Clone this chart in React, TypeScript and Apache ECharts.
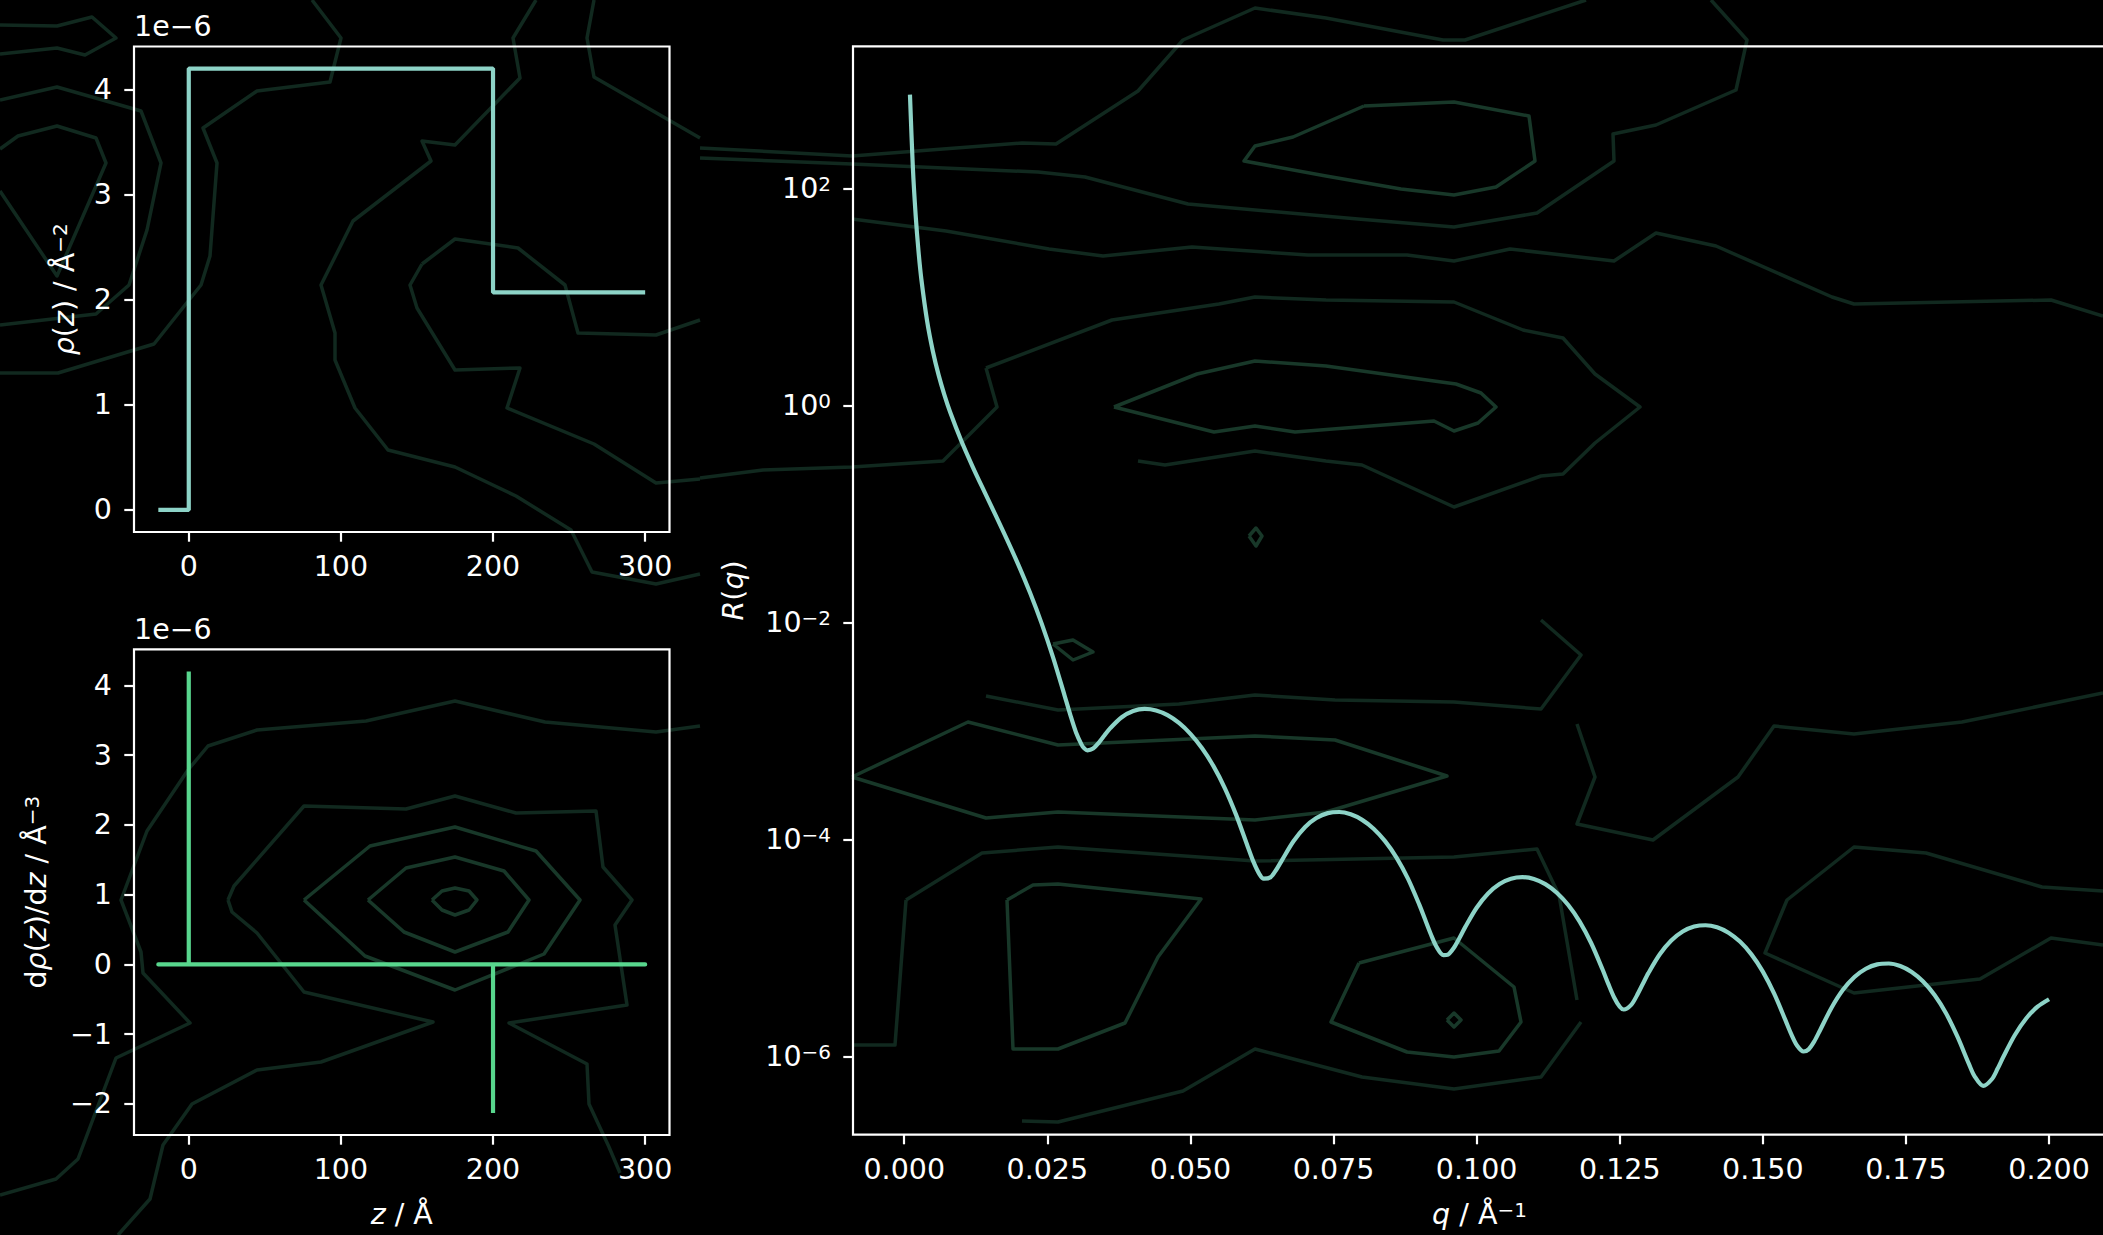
import React, { useEffect, useRef } from "react";
import * as echarts from "echarts";

const FONT = "DejaVu Sans";
const WHITE = "#ffffff";
const TEAL = "#8dd3c7";
const GREEN = "#58d68d";
const FS = 28.5;

// ---- Panel A: SLD profile rho(z) ----
const sldZ = [-20, 0, 0, 200, 200, 300];
const sldRho = [0, 0, 4.2e-6, 4.2e-6, 2.07e-6, 2.07e-6];

// ---- Panel B: derivative d rho / dz ----
const dZ = [-20, 0, 0, 0, 200, 200, 200, 300];
const dRho = [0, 0, 4.2e-6, 0, 0, -2.13e-6, 0, 0];

// ---- Panel C: reflectivity R(q) ----
const qValues = [
  0.001, 0.0015, 0.002, 0.0025, 0.003, 0.004, 0.005, 0.006, 0.007, 0.008,
  0.01, 0.012, 0.014, 0.016, 0.018, 0.02, 0.022, 0.024, 0.026, 0.028,
  0.029, 0.03, 0.031, 0.0314, 0.032, 0.033, 0.034, 0.035, 0.036, 0.038,
  0.04, 0.042, 0.044, 0.046, 0.048, 0.05, 0.052, 0.054, 0.056, 0.058,
  0.06, 0.061, 0.062, 0.0628, 0.064, 0.065, 0.066, 0.068, 0.07, 0.072,
  0.074, 0.076, 0.078, 0.08, 0.082, 0.084, 0.086, 0.088, 0.09, 0.091,
  0.092, 0.093, 0.0942, 0.095, 0.096, 0.097, 0.098, 0.1, 0.102, 0.104,
  0.106, 0.108, 0.11, 0.112, 0.114, 0.116, 0.118, 0.12, 0.122, 0.123,
  0.124, 0.125, 0.1257, 0.127, 0.128, 0.129, 0.13, 0.132, 0.134, 0.136,
  0.138, 0.14, 0.142, 0.144, 0.146, 0.148, 0.15, 0.152, 0.154, 0.155,
  0.156, 0.1571, 0.158, 0.159, 0.16, 0.162, 0.164, 0.166, 0.168, 0.17,
  0.172, 0.174, 0.176, 0.178, 0.18, 0.182, 0.184, 0.186, 0.187, 0.1885,
  0.19, 0.191, 0.192, 0.194, 0.196, 0.198, 0.2,
];
const rValues = [
  733, 158.6, 56.23, 26.17, 14.44, 5.99, 3.161, 1.912, 1.259, 0.875,
  0.4677, 0.2693, 0.1605, 0.0965, 0.0575, 0.03343, 0.01866, 0.00981, 0.004767, 0.002132,
  0.001414, 9.743e-4, 7.435e-4, 6.961e-4, 6.636e-4, 6.893e-4, 7.824e-4, 9.141e-4, 1.062e-3, 1.339e-3,
  1.529e-3, 1.597e-3, 1.546e-3, 1.397e-3, 1.184e-3, 9.395e-4, 6.958e-4, 4.764e-4, 2.977e-4, 1.676e-4,
  8.627e-5, 6.242e-5, 4.843e-5, 4.35e-5, 4.49e-5, 5.257e-5, 6.457e-5, 9.618e-5, 1.297e-4, 1.576e-4,
  1.748e-4, 1.79e-4, 1.705e-4, 1.515e-4, 1.256e-4, 9.649e-5, 6.808e-5, 4.351e-5, 2.494e-5, 1.826e-5,
  1.336e-5, 1.022e-5, 8.597e-6, 8.7e-6, 9.988e-6, 1.236e-5, 1.556e-5, 2.349e-5, 3.182e-5, 3.889e-5,
  4.346e-5, 4.493e-5, 4.32e-5, 3.873e-5, 3.228e-5, 2.486e-5, 1.751e-5, 1.111e-5, 6.329e-6, 4.667e-6,
  3.517e-6, 2.873e-6, 2.71e-6, 2.987e-6, 3.65e-6, 4.631e-6, 5.861e-6, 8.753e-6, 1.171e-5, 1.417e-5,
  1.574e-5, 1.62e-5, 1.551e-5, 1.383e-5, 1.145e-5, 8.73e-6, 6.056e-6, 3.772e-6, 2.126e-6, 1.589e-6,
  1.253e-6, 1.111e-6, 1.163e-6, 1.381e-6, 1.747e-6, 2.813e-6, 4.115e-6, 5.4e-6, 6.437e-6, 7.063e-6,
  7.189e-6, 6.812e-6, 6.008e-6, 4.907e-6, 3.681e-6, 2.5e-6, 1.521e-6, 8.535e-7, 6.558e-7, 5.36e-7,
  6.166e-7, 7.692e-7, 9.881e-7, 1.569e-6, 2.239e-6, 2.874e-6, 3.367e-6,
];

// ---- axis ranges and tick settings ----
const zRange = [-36, 316];
const zTicks = [0, 300, 100]; // min, max, step
const rhoRange = [-0.21e-6, 4.41e-6];
const rhoTicks = [0, 4e-6, 1e-6];
const dRhoRange = [-2.4465e-6, 4.5165e-6];
const dRhoTicks = [-2e-6, 4e-6, 1e-6];
const qRange = [-0.00895, 0.20995];
const qTicks = [0, 0.2, 0.025];
const rExpRange = [-6.72, 3.31]; // log10 limits of R axis
const rExpTicks = [-6, 2, 2];

// ---- layout (pixel boxes of the three axes) ----
const boxA = { left: 134, top: 46.5, width: 535.5, height: 485.5 };
const boxB = { left: 134, top: 649.4, width: 535.5, height: 485.6 };
const boxC = { left: 853, top: 46.3, width: 1253, height: 1088.3 };

// ---- decorative background contour lines (figure backdrop, pixel space) ----
const CONTOUR_BRIGHT = "#183829";
const CONTOUR_DIM = "#11291f";
const contoursBright: number[][][] = [
  [[1364, 106], [1454, 102], [1529, 116], [1535, 161], [1496, 187], [1454, 195], [1401, 189], [1326, 176], [1244, 161], [1255, 146], [1293, 137], [1364, 106]],
  [[1114, 407], [1197, 374], [1255, 361], [1326, 366], [1434, 381], [1456, 384], [1481, 393], [1496, 407], [1478, 423], [1454, 431], [1434, 421], [1295, 432], [1255, 426], [1214, 432], [1114, 407]],
  [[1007, 900], [1033, 885], [1058, 884], [1201, 899], [1158, 957], [1125, 1023], [1058, 1049], [1013, 1049], [1007, 900]],
  [[1359, 963], [1454, 938], [1514, 987], [1521, 1022], [1499, 1051], [1454, 1057], [1407, 1052], [1331, 1022], [1359, 963]],
  [[432, 900], [442, 891], [455, 888], [469, 891], [477, 900], [469, 910], [455, 915], [442, 910], [432, 900]],
  [[368, 900], [406, 868], [455, 857], [504, 871], [529, 900], [508, 932], [455, 952], [404, 932], [368, 900]],
  [[304, 900], [370, 846], [455, 827], [536, 851], [580, 900], [544, 954], [455, 990], [365, 956], [304, 900]],
  [[852, 777], [986, 818], [1058, 812], [1255, 820], [1326, 812], [1447, 776], [1335, 740], [1255, 736], [1058, 745], [968, 722], [852, 777]],
  [[1053, 644], [1073, 640], [1093, 652], [1073, 660], [1053, 644]],
  [[1249, 536], [1256, 528], [1262, 536], [1256, 546], [1249, 536]],
  [[1447, 1020], [1454, 1013], [1461, 1020], [1454, 1027], [1447, 1020]],
];
const contoursDim: number[][][] = [
  [[700, 148], [852, 156], [1022, 143], [1056, 144], [1138, 91], [1183, 40], [1255, 8], [1326, 18], [1443, 40], [1465, 40], [1586, 0]],
  [[1711, 0], [1747, 40], [1736, 90], [1656, 125], [1613, 134], [1614, 161], [1537, 213], [1454, 227], [1358, 219], [1188, 204], [1085, 177], [1038, 172], [852, 164], [700, 158]],
  [[852, 219], [946, 231], [1049, 249], [1103, 256], [1192, 247], [1308, 255], [1407, 255], [1454, 261], [1510, 249], [1614, 261], [1656, 233], [1716, 246], [1832, 297], [1854, 304], [2051, 300], [2103, 316]],
  [[986, 368], [1112, 320], [1219, 304], [1255, 297], [1326, 300], [1454, 302], [1523, 330], [1563, 338], [1595, 374], [1640, 407], [1595, 443], [1563, 474], [1541, 476], [1454, 507], [1362, 465], [1326, 461], [1255, 451], [1165, 465], [1138, 461]],
  [[986, 368], [997, 407], [943, 461], [852, 467], [763, 470], [700, 478]],
  [[986, 696], [1058, 710], [1179, 704], [1255, 695], [1335, 700], [1454, 702], [1541, 709], [1581, 655], [1541, 620]],
  [[906, 900], [982, 853], [1058, 847], [1255, 861], [1454, 857], [1537, 849], [1559, 895], [1577, 1000]],
  [[906, 900], [895, 1045], [852, 1045]],
  [[1022, 1121], [1058, 1122], [1183, 1091], [1255, 1049], [1362, 1077], [1454, 1089], [1541, 1077], [1581, 1022]],
  [[1577, 724], [1595, 777], [1577, 824], [1653, 840], [1738, 777], [1774, 726], [1854, 734], [1962, 722], [2103, 693]],
  [[2103, 891], [2042, 887], [1926, 853], [1854, 847], [1787, 900], [1765, 953], [1854, 993], [1980, 979], [2051, 938], [2103, 945]],
  [[312, 0], [341, 38], [330, 82], [257, 91], [203, 128], [217, 163], [210, 256], [201, 285], [154, 344], [58, 373], [0, 373]],
  [[536, 0], [513, 38], [520, 78], [455, 145], [422, 141], [431, 161], [353, 221], [321, 285], [335, 333], [335, 360], [355, 408], [388, 450], [455, 467], [516, 496], [571, 530], [592, 572], [656, 584], [700, 574]],
  [[422, 264], [455, 239], [518, 248], [565, 285], [578, 333], [656, 335], [700, 320]],
  [[422, 264], [410, 285], [417, 308], [455, 370], [520, 368], [507, 408], [594, 444], [656, 483], [700, 479]],
  [[594, 0], [587, 38], [594, 77], [700, 138]],
  [[0, 100], [57, 87], [141, 111], [161, 163], [147, 230], [129, 285], [96, 314], [0, 325]],
  [[0, 149], [18, 136], [57, 126], [96, 138], [106, 163], [57, 276], [0, 191]],
  [[0, 25], [57, 26], [92, 17], [116, 38], [85, 55], [57, 48], [0, 54]],
  [[228, 900], [234, 886], [304, 806], [406, 809], [455, 796], [516, 813], [596, 811], [603, 867], [632, 900], [615, 925], [627, 1005], [509, 1023], [587, 1064], [589, 1104], [609, 1147], [620, 1173]],
  [[228, 900], [232, 912], [257, 933], [304, 992], [433, 1022], [321, 1062], [257, 1070], [192, 1104], [163, 1145], [150, 1199], [118, 1235]],
  [[700, 726], [656, 732], [545, 722], [455, 701], [366, 721], [257, 730], [208, 746], [188, 770], [147, 831], [121, 900], [141, 952], [143, 973], [190, 1023], [116, 1058], [78, 1159], [56, 1179], [0, 1195]],
];

function xTickGrid(box: any, range: number[], t: number[]) {
  const s = box.width / (range[1] - range[0]);
  return {
    left: box.left + (t[0] - range[0]) * s,
    width: (t[1] - t[0]) * s,
    top: box.top,
    height: box.height,
  };
}
function yTickGrid(box: any, range: number[], t: number[]) {
  const s = box.height / (range[1] - range[0]);
  return {
    left: box.left,
    width: box.width,
    top: box.top + (range[1] - t[1]) * s,
    height: (t[1] - t[0]) * s,
  };
}

const signed = (n: number) => (n < 0 ? "\u2212" + -n : String(n));

const supStyle = { fontSize: 20, lineHeight: 13, verticalAlign: "top", color: WHITE, fontFamily: FONT };
const itStyle = { fontStyle: "italic", color: WHITE, fontSize: FS, fontFamily: FONT };

const tickLine = { show: true, length: 9.7, inside: false, lineStyle: { color: WHITE, width: 2.2 } };
const labelBase = { color: WHITE, fontSize: FS, fontFamily: FONT, rich: { s: supStyle } };
const nameStyle = {
  color: WHITE,
  fontSize: FS,
  fontFamily: FONT,
  rich: { i: itStyle, s: supStyle },
};

function gridOf(b: any, show = false) {
  return {
    left: b.left,
    top: b.top,
    width: b.width,
    height: b.height,
    show,
    borderColor: WHITE,
    borderWidth: 2.2,
    backgroundColor: "transparent",
    containLabel: false,
    outerBoundsMode: "none",
    z: 3,
  };
}

const hiddenAxis = (gi: number) => ({ gridIndex: gi, type: "value", show: false, min: 0, max: 1 });

function dataAxis(gi: number, type: string, min: number, max: number, extra: any = {}) {
  return {
    gridIndex: gi,
    type,
    min,
    max,
    axisLine: { show: false },
    axisTick: { show: false },
    axisLabel: { show: false },
    splitLine: { show: false },
    nameLocation: "middle",
    nameTextStyle: nameStyle,
    ...extra,
  };
}

function tickAxis(gi: number, t: number[], position: string, margin: number, formatter: any) {
  return {
    gridIndex: gi,
    type: "value",
    position,
    min: t[0],
    max: t[1],
    interval: t[2],
    axisLine: { show: false },
    axisTick: tickLine,
    axisLabel: { ...labelBase, margin, formatter },
    splitLine: { show: false },
  };
}

const fmtMicro = (v: number) => signed(Math.round(v * 1e6));
const fmtInt = (v: number) => signed(Math.round(v));
const fmtQ = (v: number) => v.toFixed(3);
const fmtPow = (v: number) => "10{s|" + signed(Math.round(v)) + "}";

const contourGraphics = [
  ...contoursDim.map((pts) => ({
    type: "polyline",
    silent: true,
    z: -10,
    shape: { points: pts },
    style: { stroke: CONTOUR_DIM, lineWidth: 3.5, fill: null, lineJoin: "round" },
  })),
  ...contoursBright.map((pts) => ({
    type: "polyline",
    silent: true,
    z: -9,
    shape: { points: pts },
    style: { stroke: CONTOUR_BRIGHT, lineWidth: 3.5, fill: null, lineJoin: "round" },
  })),
];

const offsetText = (y: number) => ({
  type: "text",
  x: 134,
  y,
  z: 10,
  style: {
    text: "1e\u22126",
    fill: WHITE,
    fontSize: FS,
    fontFamily: FONT,
    textAlign: "left",
    textVerticalAlign: "middle",
    align: "left",
    verticalAlign: "middle",
  },
});

const option: any = {
  animation: false,
  backgroundColor: "#000000",
  grid: [
    gridOf(boxA, true),
    gridOf(boxB, true),
    gridOf(boxC, true),
    gridOf(xTickGrid(boxA, zRange, zTicks)),
    gridOf(yTickGrid(boxA, rhoRange, rhoTicks)),
    gridOf(xTickGrid(boxB, zRange, zTicks)),
    gridOf(yTickGrid(boxB, dRhoRange, dRhoTicks)),
    gridOf(xTickGrid(boxC, qRange, qTicks)),
    gridOf(yTickGrid(boxC, rExpRange, rExpTicks)),
  ],
  xAxis: [
    dataAxis(0, "value", zRange[0], zRange[1]),
    dataAxis(1, "value", zRange[0], zRange[1], { name: "{i|z} / \u00c5", nameGap: 65 }),
    dataAxis(2, "value", qRange[0], qRange[1], { name: "{i|q} / \u00c5{s|\u22121}", nameGap: 65 }),
    tickAxis(3, zTicks, "bottom", 20, fmtInt),
    hiddenAxis(4),
    tickAxis(5, zTicks, "bottom", 20, fmtInt),
    hiddenAxis(6),
    tickAxis(7, qTicks, "bottom", 20, fmtQ),
    hiddenAxis(8),
  ],
  yAxis: [
    dataAxis(0, "value", rhoRange[0], rhoRange[1], {
      name: "{i|\u03c1}({i|z}) / \u00c5{s|\u22122}",
      nameGap: 55,
    }),
    dataAxis(1, "value", dRhoRange[0], dRhoRange[1], {
      name: "d{i|\u03c1}({i|z})/d{i|z} / \u00c5{s|\u22123}",
      nameGap: 83,
    }),
    dataAxis(2, "log", 1.905e-7, 2041.7, { logBase: 10, name: "{i|R}({i|q})", nameGap: 105 }),
    hiddenAxis(3),
    tickAxis(4, rhoTicks, "left", 22, fmtMicro),
    hiddenAxis(5),
    tickAxis(6, dRhoTicks, "left", 22, fmtMicro),
    hiddenAxis(7),
    tickAxis(8, rExpTicks, "left", 22, fmtPow),
  ],
  series: [
    {
      type: "line",
      xAxisIndex: 0,
      yAxisIndex: 0,
      data: sldZ.map((z, i) => [z, sldRho[i]]),
      showSymbol: false,
      lineStyle: { color: TEAL, width: 4.2 },
      z: 5,
    },
    {
      type: "line",
      xAxisIndex: 1,
      yAxisIndex: 1,
      data: dZ.map((z, i) => [z, dRho[i]]),
      showSymbol: false,
      lineStyle: { color: GREEN, width: 4.2, cap: "round" },
      z: 5,
    },
    {
      type: "line",
      xAxisIndex: 2,
      yAxisIndex: 2,
      data: qValues.map((q, i) => [q, rValues[i]]),
      showSymbol: false,
      smooth: 0.3,
      lineStyle: { color: TEAL, width: 4.2 },
      z: 5,
    },
  ],
  graphic: [...contourGraphics, offsetText(26), offsetText(629)],
};

export default function App() {
  const ref = useRef<HTMLDivElement>(null);
  useEffect(() => {
    document.body.style.margin = "0";
    document.body.style.background = "#000";
    const chart = echarts.init(ref.current as HTMLDivElement, null, {
      renderer: "svg",
      width: 2103,
      height: 1235,
    });
    chart.setOption(option);
    return () => chart.dispose();
  }, []);
  return (
    <div
      ref={ref}
      style={{ position: "absolute", left: 0, top: 0, width: 2103, height: 1235, background: "#000", overflow: "hidden" }}
    />
  );
}
